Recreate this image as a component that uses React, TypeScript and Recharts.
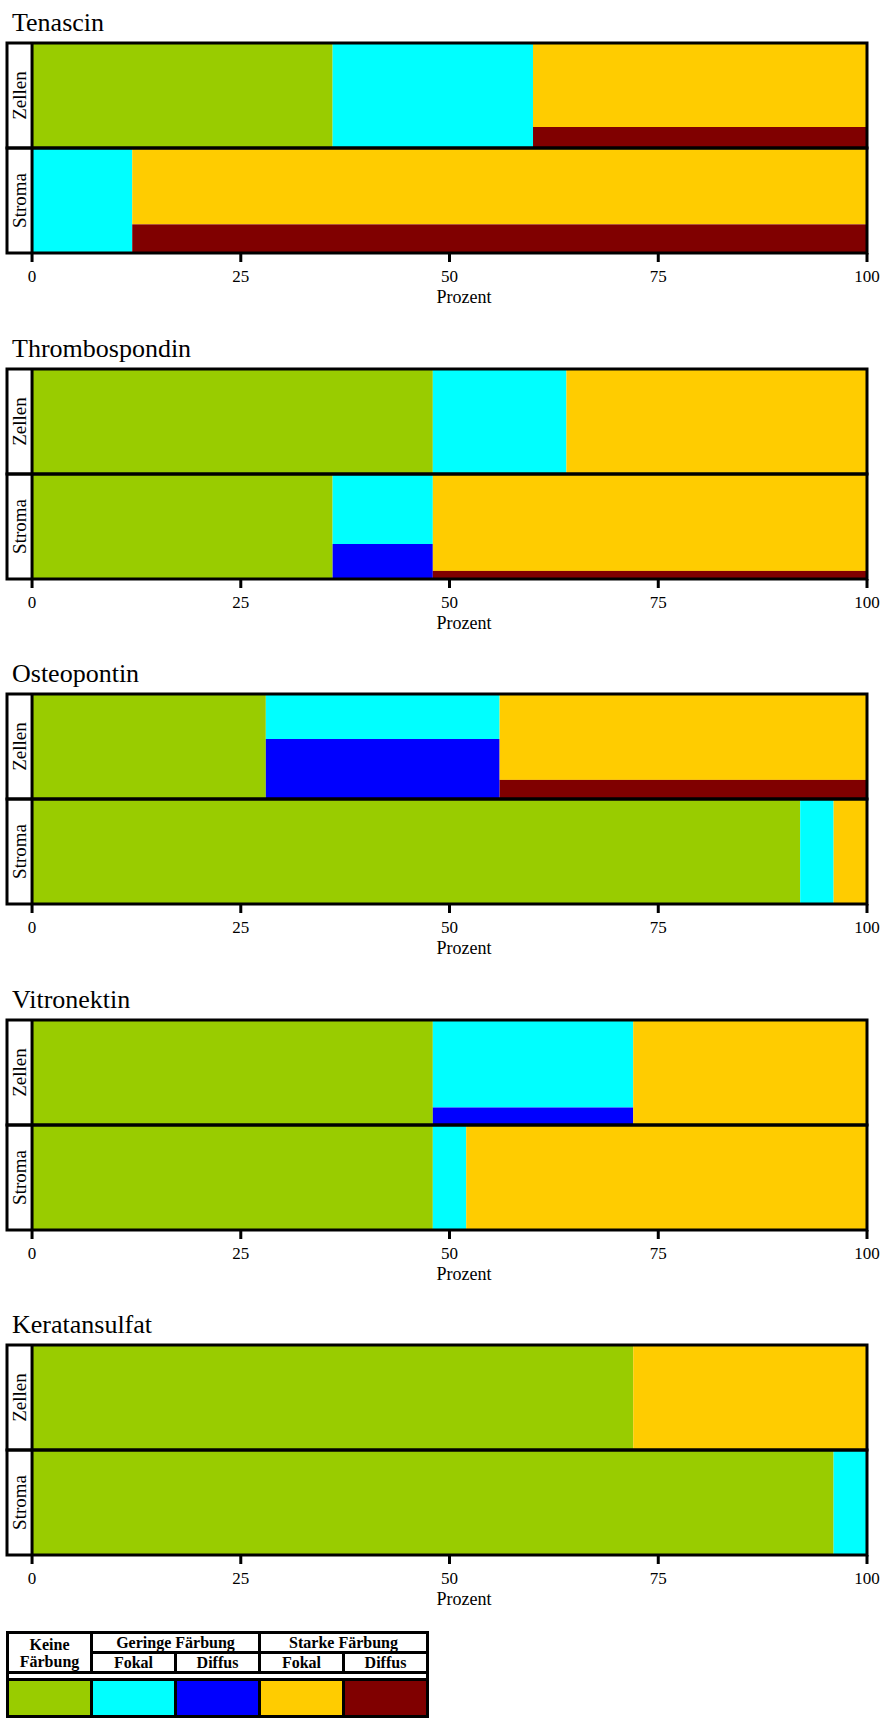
import { BarChart, Bar, XAxis, YAxis, ReferenceArea, ReferenceLine, Label } from 'recharts';

if (typeof document !== 'undefined') document.body.style.margin = '0';

// Anteile in Prozent, je Antigen [Zellen, Stroma]
const antigens = ['Tenascin', 'Thrombospondin', 'Osteopontin', 'Vitronektin', 'Keratansulfat'];
const rowLabels = ['Zellen', 'Stroma'];
const keine = [[36, 0], [48, 36], [28, 92], [48, 48], [72, 96]];
const geringFokal = [[24, 12], [16, 8], [12, 4], [20, 4], [0, 4]];
const geringDiffus = [[0, 0], [0, 4], [16, 0], [4, 0], [0, 0]];
const starkFokal = [[32, 64], [36, 48], [36, 4], [28, 48], [28, 0]];
const starkDiffus = [[8, 24], [0, 4], [8, 0], [0, 0], [0, 0]];
const xTicks = [0, 25, 50, 75, 100];

const legendCols = ['Keine Färbung', 'Fokal', 'Diffus', 'Fokal', 'Diffus'];
const legendColors = ['#99cc00', '#00ffff', '#0000ff', '#ffcc00', '#800000'];

const SERIF = '"Liberation Serif", "Times New Roman", serif';
const PANEL_STEP = 325.5;

function buildRows(i: number) {
  return rowLabels.map((row, r) => ({
    row,
    keine: keine[i][r],
    geringFokal: geringFokal[i][r],
    geringDiffus: geringDiffus[i][r],
    geringe: geringFokal[i][r] + geringDiffus[i][r],
    starkFokal: starkFokal[i][r],
    starkDiffus: starkDiffus[i][r],
    starke: starkFokal[i][r] + starkDiffus[i][r],
  }));
}

// splits one stacked segment vertically into fokal (top) / diffus (bottom)
function splitShape(topKey: string, bottomKey: string, topColor: string, bottomColor: string) {
  return (props: any) => {
    const { x, y, width, height, payload } = props;
    const total = payload[topKey] + payload[bottomKey];
    if (!total || !width) return <g />;
    const hTop = (height * payload[topKey]) / total;
    return (
      <g>
        <rect x={x} y={y} width={width} height={hTop} fill={topColor} />
        <rect x={x} y={y + hTop} width={width} height={height - hTop} fill={bottomColor} />
      </g>
    );
  };
}

const RowTick = (props: any) => {
  const { x, y, payload } = props;
  const tx = x + 19;
  return (
    <text x={tx} y={y} transform={`rotate(-90 ${tx} ${y})`} textAnchor="middle"
      fontSize={19} style={{ fontFamily: SERIF }} fill="#000">
      {payload.value}
    </text>
  );
};

const PercentTick = (props: any) => {
  const { x, y, payload } = props;
  return (
    <text x={x} y={y} dy="0.71em" textAnchor="middle" fontSize={17}
      style={{ fontFamily: SERIF }} fill="#000">
      {payload.value}
    </text>
  );
};

const ProzentLabel = (props: any) => {
  const vb = props.viewBox;
  return (
    <text x={vb.x + vb.width / 2 + 27} y={vb.y + 50} textAnchor="middle"
      fontSize={18} style={{ fontFamily: SERIF }} fill="#000">
      Prozent
    </text>
  );
};

function Panel({ index }: { index: number }) {
  const data = buildRows(index);
  return (
    <div style={{ position: 'absolute', left: 0, top: index * PANEL_STEP, width: 883, height: 320 }}>
      <div style={{ position: 'absolute', left: 12, top: 8, fontFamily: SERIF, fontSize: 26, lineHeight: 'normal' }}>
        {antigens[index]}
      </div>
      <BarChart width={883} height={320} data={data} layout="vertical"
        margin={{ top: 43, right: 16, left: 6, bottom: 0 }} barCategoryGap={0} barGap={0}>
        <XAxis type="number" domain={[-3, 100]} ticks={xTicks} allowDataOverflow
          axisLine={false} tickSize={9} tickMargin={8} height={67} interval={0}
          tickLine={{ stroke: '#000', strokeWidth: 3 }} tick={PercentTick}>
          <Label content={ProzentLabel} />
        </XAxis>
        <YAxis type="category" dataKey="row" width={1} axisLine={false} tickLine={false}
          tickSize={0} tickMargin={0} tick={RowTick} interval={0} />
        <Bar dataKey="keine" stackId="s" fill={legendColors[0]} isAnimationActive={false} />
        <Bar dataKey="geringe" stackId="s" fill={legendColors[1]} isAnimationActive={false}
          shape={splitShape('geringFokal', 'geringDiffus', legendColors[1], legendColors[2])} />
        <Bar dataKey="starke" stackId="s" fill={legendColors[3]} isAnimationActive={false}
          shape={splitShape('starkFokal', 'starkDiffus', legendColors[3], legendColors[4])} />
        {rowLabels.map((row) => (
          <ReferenceArea key={row} y1={row} y2={row} x1={-3} x2={100} fill="none"
            fillOpacity={0} stroke="#000" strokeWidth={3} strokeOpacity={1} zIndex={1000} />
        ))}
        <ReferenceLine x={0} stroke="#000" strokeWidth={3} zIndex={1000} />
      </BarChart>
    </div>
  );
}

const cell: any = {
  border: '3px solid #000',
  padding: 0,
  textAlign: 'center',
  lineHeight: '17px',
};

function LegendTable() {
  return (
    <table style={{ position: 'absolute', left: 6, top: 1631, borderCollapse: 'collapse',
      fontFamily: SERIF, fontWeight: 'bold', fontSize: 16, tableLayout: 'fixed' }}>
      <tbody>
        <tr>
          <td rowSpan={2} style={{ ...cell, width: 81 }}>
            {legendCols[0].split(' ').map((w, k) => <div key={k}>{w}</div>)}
          </td>
          <td colSpan={2} style={cell}>Geringe Färbung</td>
          <td colSpan={2} style={cell}>Starke Färbung</td>
        </tr>
        <tr>
          {legendCols.slice(1).map((c, k) => (
            <td key={k} style={{ ...cell, width: 81 }}>{c}</td>
          ))}
        </tr>
        <tr>
          <td colSpan={5} style={{ ...cell, height: 4, lineHeight: '4px' }} />
        </tr>
        <tr>
          {legendColors.map((c) => (
            <td key={c} style={{ ...cell, height: 34, background: c }} />
          ))}
        </tr>
      </tbody>
    </table>
  );
}

export default function App() {
  return (
    <div style={{ position: 'relative', width: 883, height: 1720, background: '#fff' }}>
      {antigens.map((a, i) => <Panel key={a} index={i} />)}
      <LegendTable />
    </div>
  );
}
